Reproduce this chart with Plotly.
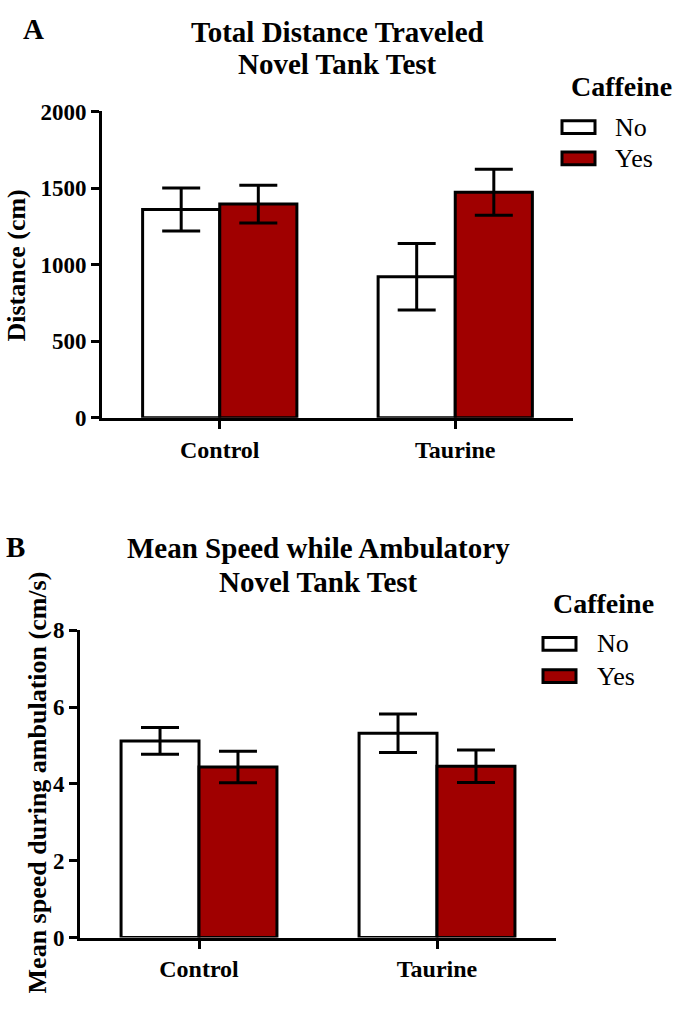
import plotly.graph_objects as go

# ---------------- data ----------------
categories = ["Control", "Taurine"]
groups = ["No", "Yes"]

distance_no = [1360, 920]
distance_no_err = [140, 217]
distance_yes = [1395, 1472]
distance_yes_err = [124, 150]

speed_no = [5.12, 5.32]
speed_no_err = [0.35, 0.50]
speed_yes = [4.44, 4.46]
speed_yes_err = [0.41, 0.42]

y_ticks_a = [0, 500, 1000, 1500, 2000]
y_ticks_b = [0, 2, 4, 6, 8]

# ---------------- style ----------------
W, H = 677, 1010
FONT = "Liberation Serif, Times New Roman, serif"
RED = "#A00000"
WHITE = "#FFFFFF"


def px(x):
    return x / W


def py(y):
    return 1 - y / H


fig = go.Figure()


def add_bars(xa, ya, no_vals, no_err, yes_vals, yes_err):
    for name, vals, err, color in [
        ("No", no_vals, no_err, WHITE),
        ("Yes", yes_vals, yes_err, RED),
    ]:
        fig.add_trace(go.Bar(
            x=categories, y=vals, name=name, xaxis=xa, yaxis=ya,
            marker=dict(color=color, line=dict(color="black", width=3)),
            error_y=dict(type="data", array=err, visible=True,
                         color="black", thickness=3, width=19),
            offsetgroup=name, showlegend=False,
        ))


add_bars("x", "y", distance_no, distance_no_err, distance_yes, distance_yes_err)
add_bars("x2", "y2", speed_no, speed_no_err, speed_yes, speed_yes_err)

axis_common = dict(
    showline=True, linewidth=3, linecolor="black",
    ticks="outside", ticklen=8, tickwidth=3, tickcolor="black",
    showgrid=False, zeroline=False,
)

fig.update_layout(
    width=W, height=H, autosize=False,
    margin=dict(l=0, r=0, t=0, b=0),
    paper_bgcolor="white", plot_bgcolor="white",
    barmode="group", bargap=0.345, bargroupgap=0,
    font=dict(family=FONT, color="black"),
    xaxis=dict(domain=[px(102), px(573)], anchor="y", range=[-0.5, 1.5],
               tickfont=dict(family=FONT, size=24, weight="bold"),
               **axis_common),
    yaxis=dict(domain=[py(416), py(102)], anchor="x", range=[0, 2000],
               tickvals=y_ticks_a,
               tickfont=dict(family=FONT, size=23, weight="bold"),
               **axis_common),
    xaxis2=dict(domain=[px(80), px(556)], anchor="y2", range=[-0.5, 1.5],
                tickfont=dict(family=FONT, size=24, weight="bold"),
                **axis_common),
    yaxis2=dict(domain=[py(949), py(634)], anchor="x2", range=[0, 8],
                tickvals=y_ticks_b,
                tickfont=dict(family=FONT, size=23, weight="bold"),
                **axis_common),
)

annotations = []
shapes = []


def text(x, y, s, size, bold=True, xanchor="center", angle=0):
    annotations.append(dict(
        x=px(x), y=py(y), xref="paper", yref="paper", text=s,
        showarrow=False, xanchor=xanchor, yanchor="middle",
        textangle=angle,
        font=dict(family=FONT, size=size, color="black",
                  weight="bold" if bold else "normal"),
    ))


# Panel letters
text(33, 17, "A", 29)
text(15, 549, "B", 29)

# Titles
text(337, 20, "Total Distance Traveled", 29)
text(337, 53, "Novel Tank Test", 29)
text(318, 550, "Mean Speed while Ambulatory", 29)
text(318, 584, "Novel Tank Test", 29)

# Y axis titles
text(17, 260, "Distance (cm)", 26, angle=-90)
text(37, 790, "Mean speed during ambulation (cm/s)", 26, angle=-90)


def legend(cx_title, y_title, box_x0, box_x1, y_no, y_yes, text_x):
    text(cx_title, y_title, "Caffeine", 28)
    for yc, label, color in [(y_no, "No", WHITE), (y_yes, "Yes", RED)]:
        shapes.append(dict(
            type="rect", xref="paper", yref="paper",
            x0=px(box_x0), x1=px(box_x1), y0=py(yc + 6.5), y1=py(yc - 6.5),
            fillcolor=color, line=dict(color="black", width=3),
        ))
        text(text_x, yc, label, 26, bold=False, xanchor="left")


legend(621, 76, 562, 595, 118, 150, 613)
legend(603, 607, 543, 576, 648, 681, 595)

fig.update_layout(annotations=annotations, shapes=shapes)

fig.write_html(
    "out.html",
    config={"displayModeBar": False},
    post_script="document.body.style.margin='0';document.body.style.overflow='hidden';",
)
